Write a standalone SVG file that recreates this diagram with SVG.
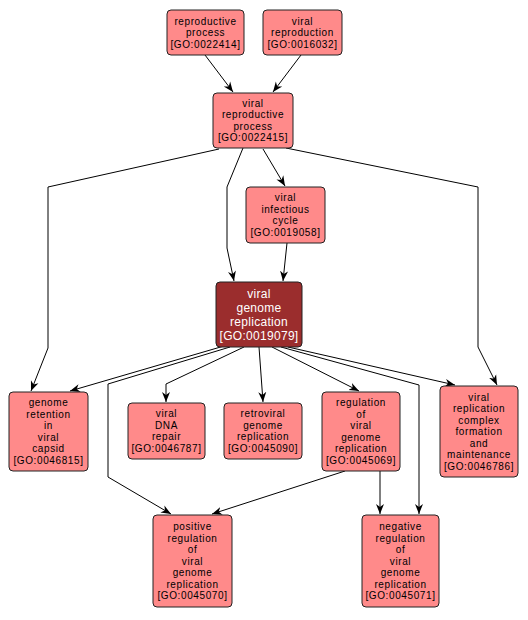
<svg xmlns="http://www.w3.org/2000/svg" width="528" height="620" viewBox="0 0 528 620">
<style>
.n rect{fill:#ff8a8a;stroke:#222;stroke-width:1}
.n text{font-family:"Liberation Sans",Arial,sans-serif;font-size:10px;fill:#000;text-anchor:middle;letter-spacing:0.6px}
.h rect{fill:#9b2d2d}
.h text{font-size:12px;fill:#fff;letter-spacing:0.3px}
.e polyline{fill:none;stroke:#000;stroke-width:1;marker-end:url(#a)}
</style>
<defs>
<marker id="a" viewBox="0 0 10 10" refX="10" refY="5" markerWidth="10" markerHeight="10" markerUnits="userSpaceOnUse" orient="auto">
<path d="M0,1 L10,5 L0,9 L3,5 Z" fill="#000"/>
</marker>
</defs>
<rect width="528" height="620" fill="#fff"/>
<g id="edges" class="e">
<polyline points="205,55 233,92"/>
<polyline points="301,55 273,92"/>
<polyline points="219,149 48,187 48,348 31,391"/>
<polyline points="243,148 227,187 227,248 234,281"/>
<polyline points="263,149 285,186"/>
<polyline points="286,148 478,187 478,347 497,385"/>
<polyline points="287,243 283,281"/>
<polyline points="224,346 70,391"/>
<polyline points="230,347 108,384 108,477 171,514"/>
<polyline points="244,347 166,384 166,402"/>
<polyline points="259,347 263,402"/>
<polyline points="272,347 359,391"/>
<polyline points="281,347 419,385 419,514"/>
<polyline points="288,347 455,385"/>
<polyline points="345,471 212,514"/>
<polyline points="380,471 380,514"/>
</g>
<g id="GO0022414" class="n"><rect x="167" y="10" width="77" height="45" rx="4"/>
<text x="205.5" y="24.5">reproductive</text><text x="205.5" y="36">process</text><text x="205.5" y="47.5">[GO:0022414]</text></g>
<g id="GO0016032" class="n"><rect x="263" y="10" width="79" height="45" rx="4"/>
<text x="302.5" y="24.5">viral</text><text x="302.5" y="36">reproduction</text><text x="302.5" y="47.5">[GO:0016032]</text></g>
<g id="GO0022415" class="n"><rect x="213" y="93" width="80" height="55" rx="4"/>
<text x="253" y="106.75">viral</text><text x="253" y="118.25">reproductive</text><text x="253" y="129.75">process</text><text x="253" y="141.25">[GO:0022415]</text></g>
<g id="GO0019058" class="n"><rect x="246" y="187" width="79" height="56" rx="4"/>
<text x="285.5" y="201.25">viral</text><text x="285.5" y="212.75">infectious</text><text x="285.5" y="224.25">cycle</text><text x="285.5" y="235.75">[GO:0019058]</text></g>
<g id="GO0019079" class="n h"><rect x="216" y="282" width="86" height="65" rx="4"/>
<text x="259" y="297.5">viral</text><text x="259" y="311.5">genome</text><text x="259" y="325.5">replication</text><text x="259" y="339.5">[GO:0019079]</text></g>
<g id="GO0046815" class="n"><rect x="9" y="392" width="79" height="79" rx="4"/>
<text x="48.5" y="406.25">genome</text><text x="48.5" y="417.75">retention</text><text x="48.5" y="429.25">in</text><text x="48.5" y="440.75">viral</text><text x="48.5" y="452.25">capsid</text><text x="48.5" y="463.75">[GO:0046815]</text></g>
<g id="GO0046787" class="n"><rect x="128" y="403" width="77" height="56" rx="4"/>
<text x="166.5" y="417.25">viral</text><text x="166.5" y="428.75">DNA</text><text x="166.5" y="440.25">repair</text><text x="166.5" y="451.75">[GO:0046787]</text></g>
<g id="GO0045090" class="n"><rect x="224" y="403" width="78" height="56" rx="4"/>
<text x="263" y="417.25">retroviral</text><text x="263" y="428.75">genome</text><text x="263" y="440.25">replication</text><text x="263" y="451.75">[GO:0045090]</text></g>
<g id="GO0045069" class="n"><rect x="322" y="392" width="78" height="79" rx="4"/>
<text x="361" y="406.25">regulation</text><text x="361" y="417.75">of</text><text x="361" y="429.25">viral</text><text x="361" y="440.75">genome</text><text x="361" y="452.25">replication</text><text x="361" y="463.75">[GO:0045069]</text></g>
<g id="GO0046786" class="n"><rect x="440" y="386" width="78" height="91" rx="4"/>
<text x="479" y="400.5">viral</text><text x="479" y="412">replication</text><text x="479" y="423.5">complex</text><text x="479" y="435">formation</text><text x="479" y="446.5">and</text><text x="479" y="458">maintenance</text><text x="479" y="469.5">[GO:0046786]</text></g>
<g id="GO0045070" class="n"><rect x="153" y="515" width="79" height="92" rx="4"/>
<text x="192.5" y="530">positive</text><text x="192.5" y="541.5">regulation</text><text x="192.5" y="553">of</text><text x="192.5" y="564.5">viral</text><text x="192.5" y="576">genome</text><text x="192.5" y="587.5">replication</text><text x="192.5" y="599">[GO:0045070]</text></g>
<g id="GO0045071" class="n"><rect x="362" y="515" width="77" height="92" rx="4"/>
<text x="400.5" y="530">negative</text><text x="400.5" y="541.5">regulation</text><text x="400.5" y="553">of</text><text x="400.5" y="564.5">viral</text><text x="400.5" y="576">genome</text><text x="400.5" y="587.5">replication</text><text x="400.5" y="599">[GO:0045071]</text></g>
</svg>
